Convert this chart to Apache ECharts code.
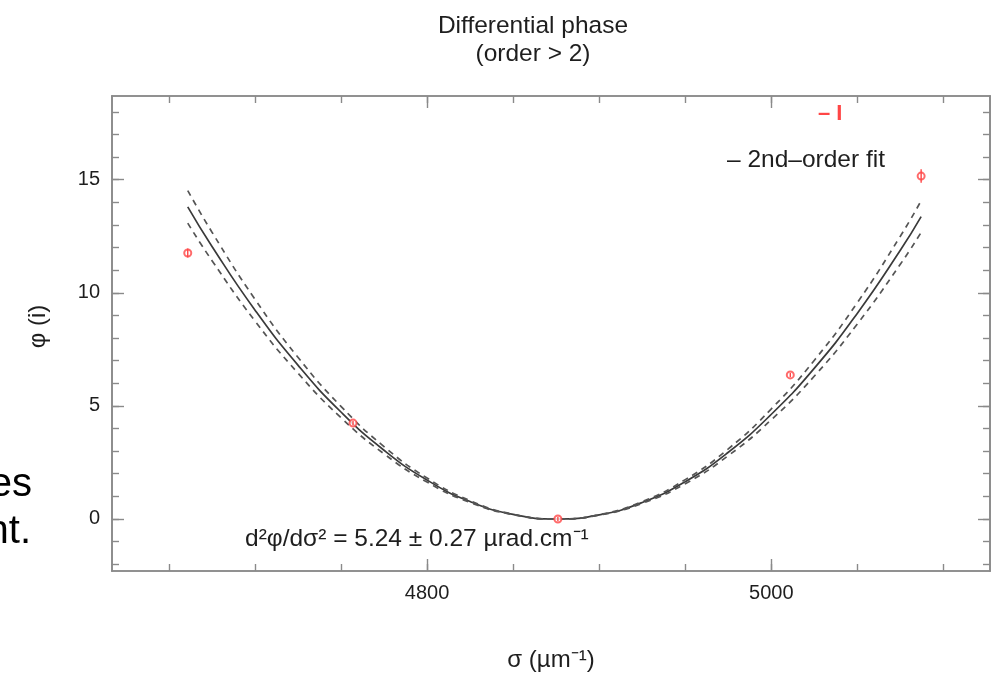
<!DOCTYPE html>
<html>
<head>
<meta charset="utf-8">
<title>Differential phase</title>
<script src="https://cdn.jsdelivr.net/npm/echarts@6/dist/echarts.min.js"></script>
<style>
  html, body { margin: 0; padding: 0; background: #fff; }
  #chart { width: 1000px; height: 677px; }
</style>
</head>
<body>
<div id="chart"></div>
<script>
// Measured differential phase (order > 2) versus wavenumber
const sigmaPoints = [4661, 4757, 4876, 5011, 5087];
const phiPoints   = [11.76, 4.24, 0.0, 6.37, 15.16];
const phiErrors   = [0.2, 0.1, 0.1, 0.1, 0.3];

// 2nd-order fit and its uncertainty envelope, sampled along sigma
const fitSigma = [4661, 4675, 4700, 4725, 4750, 4775, 4800, 4825, 4850, 4875,
                  4900, 4925, 4950, 4975, 5000, 5025, 5050, 5075, 5087];
const fitPhi   = [13.80, 12.06, 9.24, 6.80, 4.73, 3.04, 1.72, 0.77, 0.20, 0.00,
                  0.18, 0.73, 1.65, 2.95, 4.63, 6.67, 9.10, 11.89, 13.37];
const fitUpper = [14.52, 12.69, 9.72, 7.15, 4.98, 3.20, 1.81, 0.81, 0.21, 0.00,
                  0.19, 0.77, 1.74, 3.10, 4.87, 7.02, 9.57, 12.51, 14.07];
const fitLower = [13.08, 11.43, 8.76, 6.45, 4.48, 2.88, 1.63, 0.73, 0.19, 0.00,
                  0.17, 0.69, 1.56, 2.80, 4.39, 6.32, 8.63, 11.27, 12.67];

// Axis ranges and tick positions
const xRange = [4617, 5127];
const yRange = [-2.3, 18.7];
const xMinorTicks = [4650, 4700, 4750, 4800, 4850, 4900, 4950, 5000, 5050, 5100];
const xMajorTicks = [4800, 5000];
const yMinorTicks = [-2, -1, 0, 1, 2, 3, 4, 5, 6, 7, 8, 9, 10, 11, 12, 13, 14, 15, 16, 17, 18];
const yMajorTicks = [0, 5, 10, 15];

const FONT = '"Liberation Sans", Arial, Helvetica, sans-serif';
const INK = '#1e1e1e';
const AXIS = '#8a8a8a';
const RED = '#ff4646';

const zip = (xs, ys) => xs.map((x, i) => [x, ys[i]]);

function valueAxis(range, pos, ticks, len, labels, extra) {
  return Object.assign({
    type: 'value',
    position: pos,
    min: range[0],
    max: range[1],
    axisLine: { show: true, onZero: false, lineStyle: { color: AXIS, width: 1.6 } },
    axisTick: { show: true, inside: true, length: len, customValues: ticks,
                lineStyle: { color: AXIS, width: 1.4 } },
    axisLabel: labels
      ? { show: true, customValues: labels, color: INK, fontFamily: FONT, fontSize: 20, margin: 12,
          formatter: v => String(v) }
      : { show: false },
    splitLine: { show: false }
  }, extra || {});
}

const chart = echarts.init(document.getElementById('chart'), null, { renderer: 'canvas' });

chart.setOption({
  backgroundColor: '#fff',
  animation: false,
  title: {
    text: 'Differential phase\n(order > 2)',
    left: 528,
    top: 7,
    textAlign: 'center',
    textStyle: { color: INK, fontFamily: FONT, fontSize: 24.5, fontWeight: 'normal', lineHeight: 28 }
  },
  grid: { left: 112, right: 10, top: 96, bottom: 106 },
  xAxis: [
    valueAxis(xRange, 'bottom', xMinorTicks, 7, xMajorTicks, {
      name: 'σ (µm⁻¹)', nameLocation: 'middle', nameGap: 77,
      nameTextStyle: { color: INK, fontFamily: FONT, fontSize: 24 }
    }),
    valueAxis(xRange, 'bottom', xMajorTicks, 12, null),
    valueAxis(xRange, 'top', xMinorTicks, 7, null),
    valueAxis(xRange, 'top', xMajorTicks, 12, null)
  ],
  yAxis: [
    valueAxis(yRange, 'left', yMinorTicks, 7, yMajorTicks, {
      name: 'φ (i)', nameLocation: 'middle', nameGap: 62, nameRotate: 90,
      nameTextStyle: { color: INK, fontFamily: FONT, fontSize: 24, padding: [0, 0, 0, 14] }
    }),
    valueAxis(yRange, 'left', yMajorTicks, 12, null),
    valueAxis(yRange, 'right', yMinorTicks, 7, null),
    valueAxis(yRange, 'right', yMajorTicks, 12, null)
  ],
  series: [
    {
      name: 'fit', type: 'line', data: zip(fitSigma, fitPhi), smooth: true,
      showSymbol: false, lineStyle: { color: '#3a3a3a', width: 1.7 }, z: 3
    },
    {
      name: 'upper', type: 'line', data: zip(fitSigma, fitUpper), smooth: true,
      showSymbol: false, lineStyle: { color: '#555', width: 1.7, type: [6, 5] }, z: 3
    },
    {
      name: 'lower', type: 'line', data: zip(fitSigma, fitLower), smooth: true,
      showSymbol: false, lineStyle: { color: '#555', width: 1.7, type: [6, 5] }, z: 3
    },
    {
      name: 'errors', type: 'custom', z: 6,
      data: sigmaPoints.map((s, i) => [s, phiPoints[i] - phiErrors[i], phiPoints[i] + phiErrors[i]]),
      renderItem: function (params, api) {
        const lo = api.coord([api.value(0), api.value(1)]);
        const hi = api.coord([api.value(0), api.value(2)]);
        return {
          type: 'line',
          shape: { x1: lo[0], y1: lo[1], x2: hi[0], y2: hi[1] },
          style: { stroke: RED, lineWidth: 1.4 }
        };
      }
    },
    {
      name: 'data', type: 'scatter', z: 5,
      data: zip(sigmaPoints, phiPoints),
      symbol: 'emptyCircle', symbolSize: 7,
      itemStyle: { color: RED, borderColor: RED, borderWidth: 1.4 }
    }
  ],
  graphic: [
    {
      type: 'text', left: 818, top: 103,
      style: { text: '– I', fill: RED, font: 'bold 22px ' + FONT }
    },
    {
      type: 'text', left: 727, top: 148,
      style: { text: '– 2nd–order fit', fill: INK, font: '24.5px ' + FONT }
    },
    {
      type: 'text', left: 245, top: 527,
      style: { text: 'd²φ/dσ² = 5.24 ± 0.27 µrad.cm⁻¹', fill: INK, font: '24.5px ' + FONT }
    },
    {
      type: 'text', x: 32, y: 485,
      style: { text: 'es', fill: '#000', font: '40px ' + FONT, align: 'right', verticalAlign: 'middle' }
    },
    {
      type: 'text', x: 31, y: 532,
      style: { text: 'nt.', fill: '#000', font: '40px ' + FONT, align: 'right', verticalAlign: 'middle' }
    }
  ]
});
</script>
</body>
</html>
